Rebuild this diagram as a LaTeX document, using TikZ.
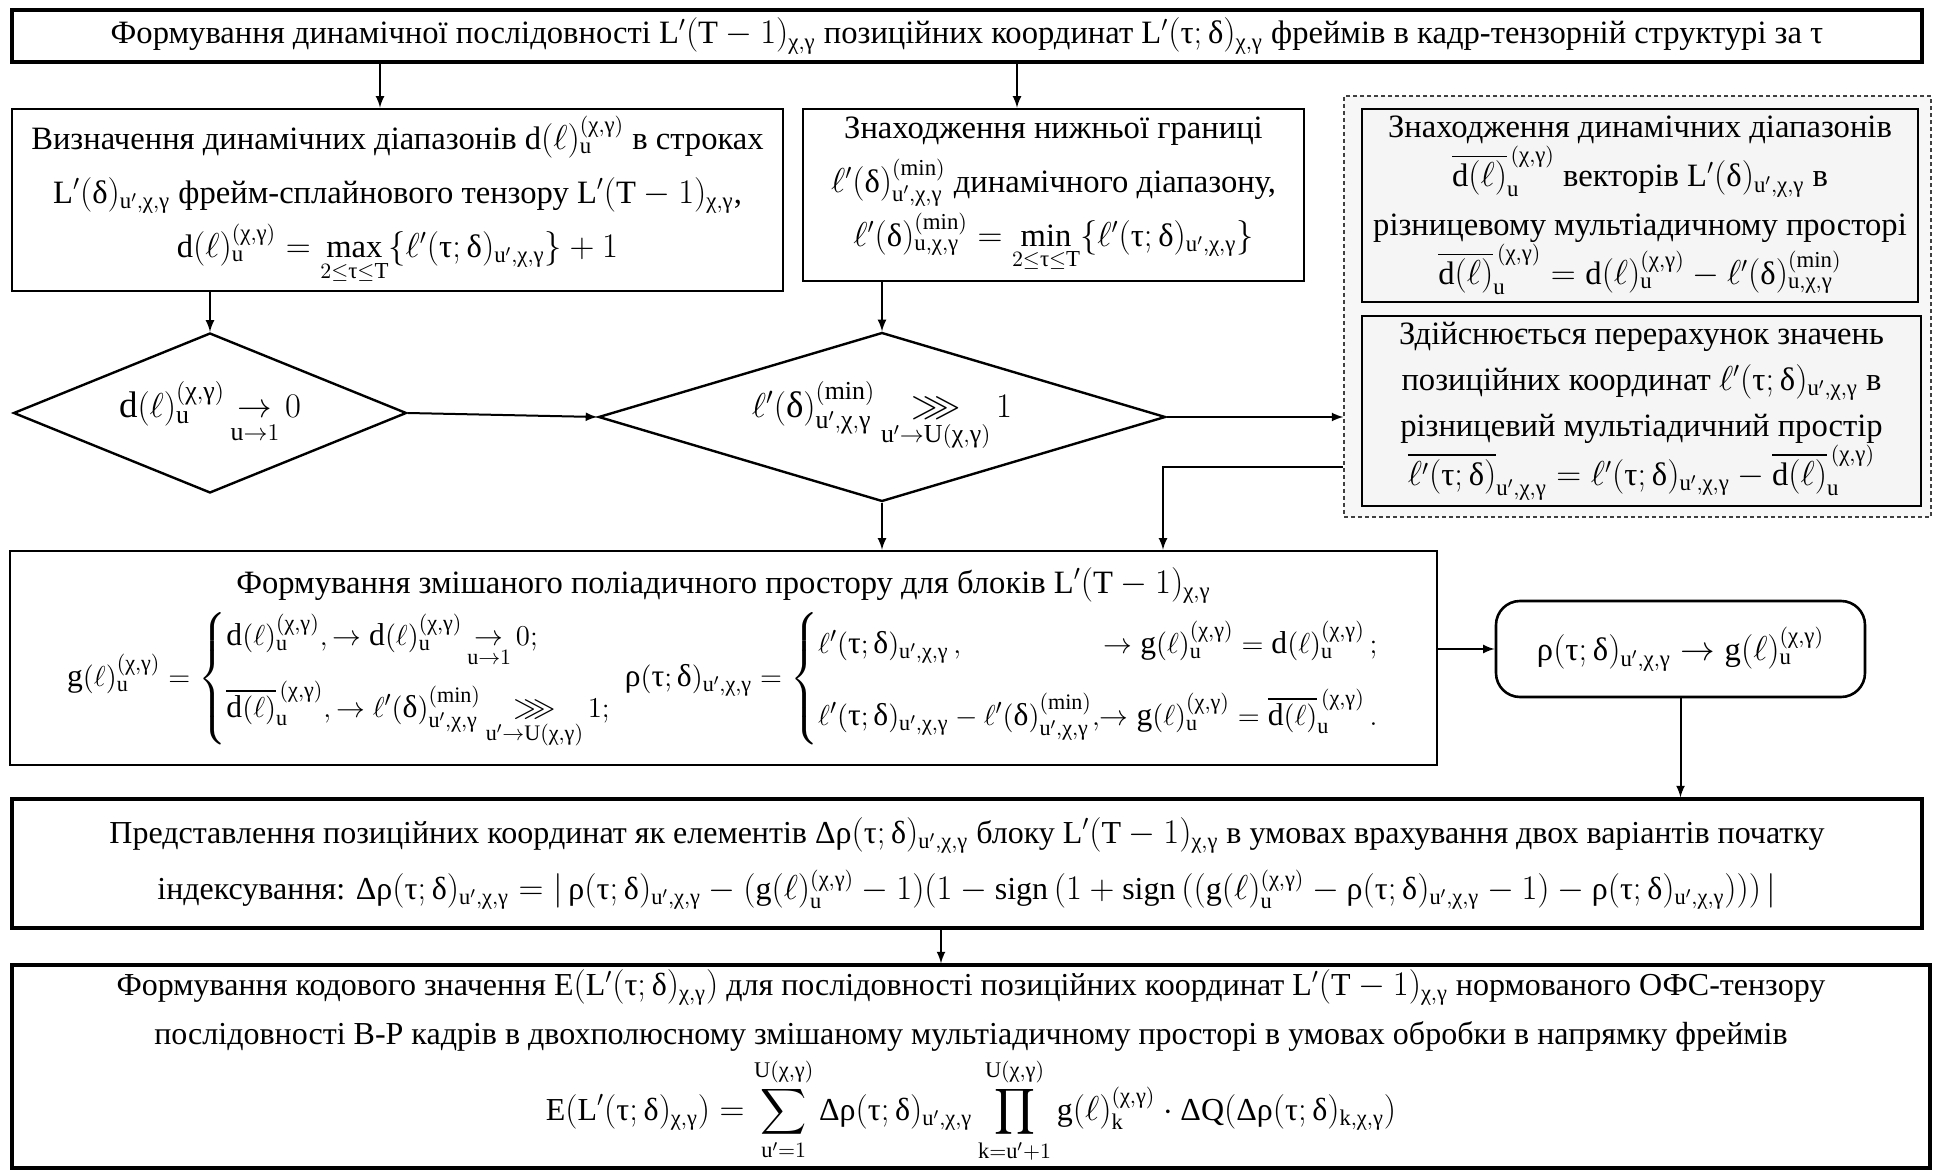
\documentclass[tikz,border=0pt]{standalone}
\usepackage{amsmath, amssymb}
\usepackage{fontspec}
\setmainfont{Liberation Serif}
\usepackage{tikz}
\usetikzlibrary{shapes.geometric, arrows}

\newcommand{\osnfont}{\fontsize{16.3}{27}\selectfont}
\newcommand{\gtau}{\text{τ}}
\newcommand{\gdel}{\text{δ}}
\newcommand{\gchi}{\text{χ}}
\newcommand{\ggam}{\text{γ}}
\newcommand{\grho}{\text{ρ}}
\newcommand{\gDel}{\text{Δ}}
\newcommand{\xg}{\gchi,\ggam}
\newcommand{\uxg}{\mathrm{u}',\gchi,\ggam}
\newcommand{\dlu}{\mathrm{d}(\ell)^{(\xg)}_{\mathrm{u}}}
\newcommand{\dlb}{\overline{\mathrm{d}(\ell)}^{\,(\xg)}_{\mathrm{u}}}
\newcommand{\glu}{\mathrm{g}(\ell)^{(\xg)}_{\mathrm{u}}}
\newcommand{\ltd}{\ell'(\gtau;\gdel)_{\uxg}}
\newcommand{\rtd}{\grho(\gtau;\gdel)_{\uxg}}
\newcommand{\lmn}{\ell'(\gdel)^{(\min)}_{\uxg}}
\newcommand{\LTm}{\mathrm{L}'(\mathrm{T}-1)_{\xg}}

\tikzset{
    blok/.style={rectangle, draw=black, line width=1.3pt, align=center, inner sep=2pt, font=\osnfont, fill=white},
    sirblok/.style={blok, fill=black!4},
    rishennya/.style={diamond, draw=black, line width=1.2pt, align=center, font=\fontsize{18.5}{22}\selectfont},
    ramka/.style={rectangle, draw=black!75, dash pattern=on 2pt off 1.5pt, line width=0.6pt, fill=black!3},
    arrow/.style={line width=1pt,->,>=latex}
}

\begin{document}
\begin{tikzpicture}[x=0.5pt, y=-0.5pt]
    \useasboundingbox (0,0) rectangle (1934,1170);

    \node (top) [blok, line width=1.6pt, minimum width=955pt, minimum height=26pt] at (967,36)
        {Формування динамічної послідовності $\LTm$ позиційних координат $\mathrm{L}'(\gtau;\gdel)_{\xg}$ фреймів в кадр-тензорній структурі за $\gtau$};

    \node (A) [blok, minimum width=385.5pt, minimum height=91pt] at (397.5,200)
        {Визначення динамічних діапазонів $\dlu$ в строках\\
         $\mathrm{L}'(\gdel)_{\uxg}$ фрейм-сплайнового тензору $\LTm$,\\
         $\dlu = \max\limits_{2\le\gtau\le\mathrm{T}}\{\ltd\}+1$};
    \node (B) [blok, minimum width=250.5pt, minimum height=86pt] at (1053.5,195)
        {Знаходження нижньої границі\\
         $\lmn$ динамічного діапазону,\\
         $\ell'(\gdel)^{(\min)}_{\mathrm{u},\xg} = \min\limits_{2\le\gtau\le\mathrm{T}}\{\ltd\}$};

    % права група
    \node (frame) [ramka, minimum width=293.5pt, minimum height=210.5pt] at (1637.5,306.5) {};
    \node (C) [sirblok, font=\fontsize{16.3}{24.5}\selectfont, minimum width=278pt, minimum height=96.5pt] at (1640,205.5)
        {Знаходження динамічних діапазонів\\
         $\dlb$ векторів $\mathrm{L}'(\gdel)_{\uxg}$ в\\
         різницевому мультіадичному просторі\\
         $\dlb = \dlu - \ell'(\gdel)^{(\min)}_{\mathrm{u},\xg}$};
    \node (D) [sirblok, font=\fontsize{16.3}{23}\selectfont, minimum width=279.5pt, minimum height=95pt] at (1641.5,411)
        {Здійснюється перерахунок значень\\
         позиційних координат $\ltd$ в\\
         різницевий мультіадичний простір\\
         $\overline{\ell'(\gtau;\gdel)}_{\uxg} = \ltd - \dlb$};

    \node (d1) [rishennya, shape aspect=2.46, inner sep=-3pt, minimum width=196.5pt, minimum height=80pt] at (210,413)
        {$\dlu \mathop{\to}\limits_{\mathrm{u}\to 1} 0$};
    \node (d2) [rishennya, shape aspect=3.36, inner sep=-6pt, minimum width=283.5pt, minimum height=84.5pt] at (882,417)
        {$\lmn \mathop{\ggg}\limits_{\mathrm{u}'\to\mathrm{U}(\xg)} 1$};

    \node (E) [blok, minimum width=713.5pt, minimum height=107pt] at (723.5,658)
        {Формування змішаного поліадичного простору для блоків $\LTm$\\[2pt]
         \fontsize{15.8}{26}\selectfont
         $\glu = \left\{\begin{array}{@{}l@{}}
            \dlu, \to \dlu \mathop{\to}\limits_{\mathrm{u}\to 1} 0;\\[10pt]
            \dlb, \to \lmn \mathop{\ggg}\limits_{\mathrm{u}'\to\mathrm{U}(\xg)} 1;
          \end{array}\right.
          \ \rtd = \left\{\begin{array}{@{}l@{}r@{}}
            \ltd\,, & \to \glu = \dlu\,;\\[10pt]
            \ltd - \lmn, & \to \glu = \dlb\,.
          \end{array}\right.$};

    \node (F) [blok, rounded corners=12pt, minimum width=184.5pt, minimum height=48pt] at (1680.5,649)
        {$\rtd \to \glu$};

    \node (G) [blok, line width=1.6pt, font=\fontsize{16}{28}\selectfont, minimum width=955pt, minimum height=64.5pt] at (967,863.5)
        {Представлення позиційних координат як елементів $\gDel\rtd$ блоку $\LTm$ в умовах врахування двох варіантів початку\\
         індексування: $\gDel\rtd = |\,\rtd - (\glu - 1)(1 - \mathrm{sign}\,(1 + \mathrm{sign}\,((\glu - \rtd - 1) - \rtd)))\,|$};

    \node (H) [blok, line width=1.6pt, font=\fontsize{16}{24.5}\selectfont, minimum width=959pt, minimum height=101.5pt] at (971,1066.5)
        {Формування кодового значення $\mathrm{E}(\mathrm{L}'(\gtau;\gdel)_{\xg})$ для послідовності позиційних координат $\LTm$ нормованого ОФС-тензору\\
         послідовності В-Р кадрів в двохполюсному змішаному мультіадичному просторі в умовах обробки в напрямку фреймів\\[2pt]
         $\displaystyle \mathrm{E}(\mathrm{L}'(\gtau;\gdel)_{\xg}) = \sum_{\mathrm{u}'=1}^{\mathrm{U}(\xg)} \gDel\rtd \prod_{\mathrm{k}=\mathrm{u}'+1}^{\mathrm{U}(\xg)} \mathrm{g}(\ell)^{(\xg)}_{\mathrm{k}} \cdot \gDel\mathrm{Q}(\gDel\grho(\gtau;\gdel)_{\mathrm{k},\xg})$};

    \coordinate (xa) at (380,0);
    \coordinate (xb) at (1017,0);
    \coordinate (xc) at (1163,467);
    \coordinate (xd) at (941,0);

    \draw [arrow] (top.south -| xa) -- (A.north -| xa);
    \draw [arrow] (top.south -| xb) -- (B.north -| xb);
    \draw [arrow] (A.south -| d1) -- (d1.north);
    \draw [arrow] (B.south -| d2) -- (d2.north);
    \draw [arrow] (d1.east) -- (d2.west);
    \draw [arrow] (d2.east) -- (frame.west |- d2.east);
    \draw [arrow] (d2.south) -- (E.north -| d2.south);
    \draw [arrow] (frame.west |- xc) -| (E.north -| xc);
    \draw [arrow] (E.east |- F) -- (F.west);
    \draw [arrow] (F.south) -- (G.north -| F.south);
    \draw [arrow] (G.south -| xd) -- (H.north -| xd);
\end{tikzpicture}
\end{document}
